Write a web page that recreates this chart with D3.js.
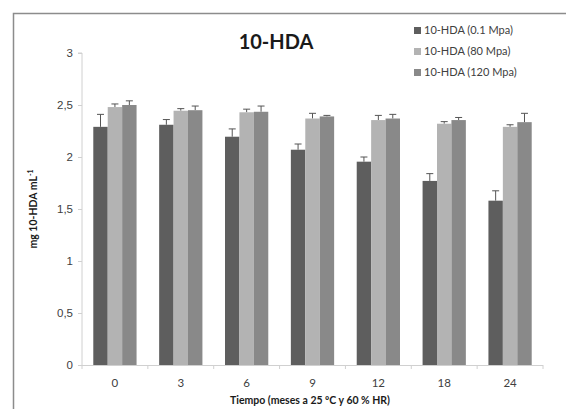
<!DOCTYPE html>
<html>
<head>
<meta charset="utf-8">
<script src="https://cdn.jsdelivr.net/npm/d3@7"></script>
<style>
  body { margin: 0; background: #fff; }
  svg { display: block; font-family: Lato, "Open Sans", sans-serif; }
</style>
</head>
<body>
<div id="chart"></div>
<script>
// 10-HDA content over storage time, three pressure treatments, upward error bars only.

const MONTHS  = ["0", "3", "6", "9", "12", "18", "24"];
const SERIES  = ["10-HDA (0.1 Mpa)", "10-HDA (80 Mpa)", "10-HDA (120 Mpa)"];
const COLORS  = ["#5e5e5e", "#b3b3b3", "#898989"];

const VAL_01  = [2.29, 2.31, 2.195, 2.07, 1.955, 1.77, 1.58];
const ERR_01  = [0.12, 0.05, 0.075, 0.055, 0.045, 0.07, 0.095];
const VAL_80  = [2.48, 2.445, 2.43, 2.37, 2.355, 2.32, 2.29];
const ERR_80  = [0.03, 0.02, 0.03, 0.05, 0.045, 0.02, 0.02];
const VAL_120 = [2.50, 2.45, 2.435, 2.39, 2.37, 2.355, 2.335];
const ERR_120 = [0.04, 0.04, 0.055, 0.01, 0.04, 0.025, 0.085];

const Y_TICKS = [0, 0.5, 1, 1.5, 2, 2.5, 3];

const values = [VAL_01, VAL_80, VAL_120];
const errors = [ERR_01, ERR_80, ERR_120];

const W = 566, H = 409;
const plot = { left: 82, right: 543, top: 53, bottom: 365 };
const textColor = "#404040";

const svg = d3.select("#chart").append("svg").attr("width", W).attr("height", H);

// outer frame (cut off at right and bottom in the original)
svg.append("rect")
  .attr("x", 13.5).attr("y", 13.5).attr("width", 700).attr("height", 500)
  .attr("fill", "none").attr("stroke", "#8c8c8c").attr("stroke-width", 1.5);

const x0 = d3.scaleBand().domain(MONTHS).range([plot.left, plot.right])
  .paddingInner(0.343).paddingOuter(0.1715);
const x1 = d3.scaleBand().domain(d3.range(SERIES.length)).range([0, x0.bandwidth()]);
const y  = d3.scaleLinear().domain([0, 3]).range([plot.bottom, plot.top]);

// y axis
svg.append("g")
  .attr("transform", `translate(${plot.left},0)`)
  .call(d3.axisLeft(y).tickValues(Y_TICKS).tickSize(4).tickPadding(5)
    .tickFormat(d => String(d).replace(".", ",")))
  .call(ax => ax.select(".domain").attr("stroke", "#d0d0d0").attr("d", `M-4,${plot.top}H0V${plot.bottom}`))
  .call(ax => ax.selectAll(".tick line").attr("stroke", "#d0d0d0"))
  .selectAll("text").style("font-size", "11.5px").style("fill", textColor);

// bars
MONTHS.forEach((m, i) => {
  const g = svg.append("g").attr("transform", `translate(${x0(m)},0)`);
  SERIES.forEach((s, j) => {
    const v = values[j][i], e = errors[j][i];
    const cx = x1(j) + x1.bandwidth() / 2;
    g.append("line")
      .attr("x1", cx).attr("x2", cx).attr("y1", y(v)).attr("y2", y(v + e))
      .attr("stroke", "#555").attr("stroke-width", 1);
    g.append("line")
      .attr("x1", cx - 3.5).attr("x2", cx + 3.5).attr("y1", y(v + e)).attr("y2", y(v + e))
      .attr("stroke", "#555").attr("stroke-width", 1);
    g.append("rect")
      .attr("x", x1(j)).attr("y", y(v))
      .attr("width", x1.bandwidth()).attr("height", y(0) - y(v))
      .attr("fill", COLORS[j]);
  });
});

// x axis: ticks at category boundaries
const bounds = MONTHS.map(m => x0(m) - x0.step() * x0.paddingInner() / 2).concat([plot.right]);
const xg = svg.append("g");
xg.append("line")
  .attr("x1", plot.left - 3).attr("x2", plot.right).attr("y1", plot.bottom + 0.5).attr("y2", plot.bottom + 0.5)
  .attr("stroke", "#d0d0d0");
xg.selectAll("line.tk").data(bounds).join("line").attr("class", "tk")
  .attr("x1", d => d).attr("x2", d => d).attr("y1", plot.bottom).attr("y2", plot.bottom + 4)
  .attr("stroke", "#d0d0d0");
xg.selectAll("text").data(MONTHS).join("text")
  .attr("x", d => x0(d) + x0.bandwidth() / 2).attr("y", plot.bottom + 22)
  .attr("text-anchor", "middle").style("font-size", "11.5px").style("fill", textColor)
  .text(d => d);

// titles
svg.append("text")
  .attr("x", 276).attr("y", 49).attr("text-anchor", "middle")
  .style("font-size", "20px").style("font-weight", "bold").style("fill", "#1a1a1a")
  .text("10-HDA");

svg.append("text")
  .attr("x", 310).attr("y", 404).attr("text-anchor", "middle")
  .style("font-size", "10.5px").style("font-weight", "bold").style("fill", "#1a1a1a")
  .text("Tiempo (meses a 25 ºC y 60 % HR)");

const yl = svg.append("text")
  .attr("transform", `translate(37,${(plot.top + plot.bottom) / 2}) rotate(-90)`)
  .attr("text-anchor", "middle")
  .style("font-size", "10.5px").style("font-weight", "bold").style("fill", "#1a1a1a");
yl.append("tspan").text("mg 10-HDA mL");
yl.append("tspan").attr("dy", -4).style("font-size", "7px").text("-1");

// legend
const lg = svg.append("g").attr("transform", "translate(414,34)");
SERIES.forEach((s, j) => {
  const row = lg.append("g").attr("transform", `translate(0,${j * 21})`);
  row.append("rect").attr("x", 0).attr("y", -7).attr("width", 7).attr("height", 7).attr("fill", COLORS[j]);
  row.append("text").attr("x", 10).attr("y", 0)
    .style("font-size", "11px").style("fill", textColor).text(s);
});
</script>
</body>
</html>
